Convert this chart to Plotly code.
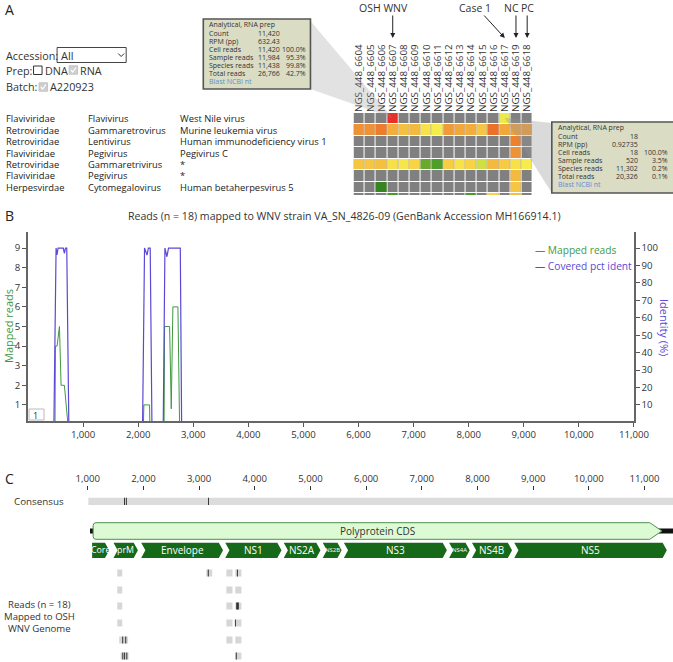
import plotly.graph_objects as go

W, H = 673, 662      # reference picture size, used for placing things
FIG_W = 690          # the page is photographed 690 px wide and shrunk to 673


def px(x):
    return x / W


def py(y):
    return 1 - y / H


# ---- panel A data ----
samples = ["NGS_448_6604", "NGS_448_6605", "NGS_448_6606", "NGS_448_6607",
           "NGS_448_6608", "NGS_448_6609", "NGS_448_6610", "NGS_448_6611",
           "NGS_448_6612", "NGS_448_6613", "NGS_448_6614", "NGS_448_6615",
           "NGS_448_6616", "NGS_448_6617", "NGS_448_6619", "NGS_448_6618"]
families = ["Flaviviridae", "Retroviridae", "Retroviridae", "Flaviviridae",
            "Retroviridae", "Flaviviridae", "Herpesvirdae"]
genera = ["Flavivirus", "Gammaretrovirus", "Lentivirus", "Pegivirus",
          "Gammaretrivirus", "Pegivirus", "Cytomegalovirus"]
species = ["West Nile virus", "Murine leukemia virus", "Human immunodeficiency virus 1",
           "Pegivirus C", "*", "*", "Human betaherpesvirus 5"]

G = None  # no reads -> grey cell
scores = [
    [G, G, G, 1.0, G, G, G, G, G, G, G, G, G, 0.45, G, G],
    [0.8, 0.8, 0.85, 0.72, 0.66, 0.68, 0.55, 0.5, 0.78, 0.74, 0.72, 0.64, 0.88, 0.74, 0.76, 0.76],
    [G, G, G, G, G, G, G, G, G, G, G, G, G, G, 0.84, G],
    [G, G, G, G, G, G, G, G, G, G, G, G, G, G, 0.8, G],
    [0.64, 0.64, 0.66, 0.56, 0.53, 0.6, 0.22, 0.17, 0.62, 0.55, 0.6, 0.38, 0.68, 0.63, 0.56, 0.5],
    [G, G, G, G, G, G, G, G, G, G, G, G, G, G, 0.68, G],
    [G, G, 0.05, G, G, G, G, G, G, G, G, G, G, G, 0.64, G],
    [G, G, G, 0.15, G, G, G, G, G, G, 0.15, G, 0.6, G, 0.66, G],
]

tip_left_rows = [("Count", "11,420", ""), ("RPM (pp)", "632.43", ""),
                 ("Cell reads", "11,420", "100.0%"), ("Sample reads", "11,984", "95.3%"),
                 ("Species reads", "11,438", "99.8%"), ("Total reads", "26,766", "42.7%")]
tip_right_rows = [("Count", "18", ""), ("RPM (pp)", "0.92735", ""),
                  ("Cell reads", "18", "100.0%"), ("Sample reads", "520", "3.5%"),
                  ("Species reads", "11,302", "0.2%"), ("Total reads", "20,326", "0.1%")]

# ---- panel B data ----
ident_x = [470, 509, 525, 545, 640, 660, 680, 703, 740,
           2080, 2115, 2160, 2185, 2218, 2249,
           2455, 2485, 2521, 2550, 2764, 2788]
ident_y = [0, 100, 96, 100, 100, 97, 100, 100, 0,
           0, 100, 96, 100, 100, 0,
           0, 100, 95, 100, 100, 0]
reads_x = [490, 497, 527, 570, 600, 660, 725,
           2095, 2103, 2206, 2212,
           2470, 2479, 2570, 2600, 2630, 2721, 2751]
reads_y = [0, 4, 4, 5, 2, 2, 0,
           0, 1, 1, 0,
           0, 5, 5, 0.8, 6, 6, 0]

# ---- panel C data ----
genes = ["Core", "prM", "Envelope", "NS1", "NS2A", "NS2B", "NS3", "NS4A", "NS4B", "NS5"]
gene_start = [1079, 1462, 1960, 3470, 4520, 5220, 5600, 7490, 7900, 8660]
gene_end = [1385, 1901, 3430, 4480, 5180, 5560, 7450, 7860, 8620, 11400]
cds_start, cds_end = 1097, 11313
consensus_start, consensus_end = 1011, 11530
consensus_snps = [1660, 1693, 3170]
read_blocks = [
    [(1530, 1620), (3130, 3235), (3490, 3600), (3650, 3760)],
    [(1530, 1620), (3490, 3600), (3650, 3760)],
    [(1530, 1620), (3490, 3600), (3650, 3760)],
    [(1530, 1620), (3490, 3600), (3650, 3760)],
    [(1565, 1725), (3490, 3600), (3650, 3760)],
    [(1590, 1735), (3650, 3760)],
]
read_snps = [[3165, 3688], [], [3675, 3690, 3705], [3652], [1628, 1682], [1630, 1662, 1702, 3668]]

GREEN = "#3f9a3f"
BLUE = "#5b48d6"
FONT = "Open Sans"

fig = go.Figure()

# heatmap: grey base + coloured scores
fig.add_trace(go.Heatmap(
    z=[[0] * len(samples) for _ in scores], x=samples, y=list(range(len(scores))),
    colorscale=[[0, "#808080"], [1, "#808080"]], showscale=False,
    xgap=1, ygap=1, hoverinfo="skip", xaxis="x", yaxis="y"))
fig.add_trace(go.Heatmap(
    z=scores, x=samples, y=list(range(len(scores))), zmin=0, zmax=1,
    colorscale=[[0.0, "#2b7a1c"], [0.17, "#4f9e2a"], [0.25, "#78b030"], [0.38, "#cfe040"],
                [0.48, "#f5f050"], [0.56, "#f8e048"], [0.66, "#f5c040"], [0.78, "#f09a38"],
                [0.88, "#ec7028"], [1.0, "#e8302a"]],
    showscale=False, xgap=1, ygap=1, xaxis="x", yaxis="y"))

# coverage plot
fig.add_trace(go.Scatter(x=reads_x, y=reads_y, mode="lines", name="Mapped reads",
                         line=dict(color=GREEN, width=1), xaxis="x2", yaxis="y2"))
fig.add_trace(go.Scatter(x=ident_x, y=ident_y, mode="lines", name="Covered pct ident",
                         line=dict(color=BLUE, width=1.2), xaxis="x2", yaxis="y3"))

shapes = []
ann = []


def text(x, y, s, size=10.5, color="#333", anchor="left", **kw):
    ann.append(dict(x=x, y=y, xref="paper", yref="paper", text=s, showarrow=False,
                    xanchor=anchor, yanchor="middle", font=dict(size=size, color=color), **kw))


# panel letters
for letter, yy in [("A", 10), ("B", 215), ("C", 478)]:
    text(px(2), py(yy), letter, size=14, color="#222")

# controls
text(px(3), py(55), "Accession:", size=10.8)
shapes.append(dict(type="rect", xref="paper", yref="paper", x0=px(56), x1=px(125),
                   y0=py(62.5), y1=py(47.5), line=dict(color="#444", width=1), fillcolor="white"))
text(px(58), py(55), "All", size=11)
shapes.append(dict(type="path", xref="paper", yref="paper",
                   path=f"M {px(117)},{py(53.5)} L {px(120)},{py(56.5)} L {px(123)},{py(53.5)}",
                   line=dict(color="#333", width=1)))
text(px(3), py(70), "Prep:", size=10.8)
shapes.append(dict(type="rect", xref="paper", yref="paper", x0=px(32.5), x1=px(41),
                   y0=py(74.5), y1=py(66), line=dict(color="#333", width=1), fillcolor="white"))
text(px(41.5), py(70), "DNA", size=10.8)
text(px(3), py(87), "Batch:", size=10.8)
text(px(76.5), py(70), "RNA", size=10.8)
text(px(46.5), py(87), "A220923", size=10.8)
for bx, by in [(68, 70), (38, 87)]:
    shapes.append(dict(type="rect", xref="paper", yref="paper", x0=px(bx), x1=px(bx + 8.5),
                       y0=py(by + 4.2), y1=py(by - 4.2), line=dict(color="#c4c4c4", width=1),
                       fillcolor="#cfcfcf"))
    shapes.append(dict(type="path", xref="paper", yref="paper",
                       path=f"M {px(bx + 1.8)},{py(by)} L {px(bx + 3.6)},{py(by + 2)} L {px(bx + 6.8)},{py(by - 2.5)}",
                       line=dict(color="white", width=1.2)))

# taxonomy table aligned on heatmap rows
for i in range(len(families)):
    for xx, s in [(3, families[i]), (85, genera[i]), (177, species[i])]:
        ann.append(dict(x=px(xx), y=i, xref="paper", yref="y", text=s, showarrow=False,
                        xanchor="left", yanchor="middle", font=dict(size=9.4, color="#222")))

# sample markers
for s, tx in [("OSH WNV", 382), ("Case 1", 473), ("NC", 510), ("PC", 526)]:
    text(px(tx), py(8), s, size=10.5, anchor="center")
for smp, dx in [("NGS_448_6607", 0), ("NGS_448_6617", -22), ("NGS_448_6619", 0), ("NGS_448_6618", 0)]:
    ann.append(dict(x=smp, y=py(38), xref="x", yref="paper", text="", showarrow=True,
                    ax=dx, ay=-24, arrowhead=2, arrowsize=1, arrowwidth=1, arrowcolor="#222"))


# tooltips
def tooltip(x0, y0, x1, y1, rows, val_x, val_anchor, pct_x, dy):
    shapes.append(dict(type="rect", xref="paper", yref="paper", x0=px(x0), x1=px(x1),
                       y0=py(y1), y1=py(y0), fillcolor="#dadcc4", line=dict(color="#555", width=1.6)))
    ly = y0 + 6
    text(px(x0 + 4), py(ly), "Analytical, RNA prep", size=7)
    for lab, val, pct in rows:
        ly += dy
        text(px(x0 + 4), py(ly), lab, size=7)
        text(px(val_x), py(ly), val, size=7, anchor=val_anchor)
        if pct:
            text(px(pct_x), py(ly), pct, size=7, anchor="right")
    text(px(x0 + 4), py(ly + dy), "Blast NCBI nt", size=7, color="#5b8fd6")


# callout wedges
shapes.append(dict(type="path", xref="paper", yref="paper", layer="above",
                   path=f"M {px(309)},{py(21)} L {px(391)},{py(118)} L {px(309)},{py(89)} Z",
                   fillcolor="rgba(150,150,150,0.28)", line=dict(width=0)))
shapes.append(dict(type="path", xref="paper", yref="paper", layer="above",
                   path=f"M {px(503)},{py(118)} L {px(550)},{py(123)} L {px(550)},{py(193)} Z",
                   fillcolor="rgba(150,150,150,0.35)", line=dict(width=0)))
tooltip(202, 19, 309, 89, tip_left_rows, 255, "left", 307, 8.1)
tooltip(550, 122, 672, 193, tip_right_rows, 638, "right", 668, 8.1)

# panel B texts
text(px(343), py(216), "Reads (n = 18) mapped to WNV strain VA_SN_4826-09 (GenBank Accession MH166914.1)",
     size=10.6, anchor="center")
text(px(531), py(250), "— Mapped reads", size=10.2, color=GREEN)
text(px(531), py(266), "— Covered pct ident", size=10.2, color=BLUE)
ann.append(dict(x=px(7), y=py(326), xref="paper", yref="paper", text="Mapped reads",
                xanchor="center", yanchor="middle",
                showarrow=False, textangle=-90, font=dict(size=11, color=GREEN)))
ann.append(dict(x=px(663), y=py(328), xref="paper", yref="paper", text="Identity (%)",
                xanchor="center", yanchor="middle",
                showarrow=False, textangle=90, font=dict(size=11, color=BLUE)))
shapes.append(dict(type="rect", xref="paper", yref="paper", x0=px(28), x1=px(43),
                   y0=py(420), y1=py(409), line=dict(color="#bbb", width=1), fillcolor="white"))
text(px(30), py(415), "1", size=9)

# panel C tracks (y in pixels below the ruler)
Y_CONS, Y_CDS, Y_GENE = 10.4, 40, 59.3
Y_READS = [82, 99, 115, 132, 149, 165]

text(px(38), py(501), "Consensus", size=9.8, anchor="center")
for s, yy in [("Reads (n = 18)", 604), ("Mapped to OSH", 616), ("WNV Genome", 628)]:
    text(px(38), py(yy), s, size=9.6, anchor="center")


def rect_c(x0, x1, yc, hh, color, **kw):
    shapes.append(dict(type="rect", xref="x3", yref="y4", x0=x0, x1=x1, y0=yc - hh, y1=yc + hh,
                       fillcolor=color, line=dict(width=0), **kw))


rect_c(consensus_start, consensus_end, Y_CONS, 3.7, "#dcdcdc")
for s in consensus_snps:
    rect_c(s - 8, s + 8, Y_CONS, 3.7, "#222")

rect_c(consensus_start + 30, consensus_end, Y_CDS, 2.6, "#111")
tip, r = 220, 50
cds_path = (f"M {cds_start + r},{Y_CDS - 8.3} L {cds_end - tip},{Y_CDS - 8.3} L {cds_end},{Y_CDS} "
            f"L {cds_end - tip},{Y_CDS + 8.3} L {cds_start + r},{Y_CDS + 8.3} "
            f"Q {cds_start},{Y_CDS + 8.3} {cds_start},{Y_CDS + 5.3} L {cds_start},{Y_CDS - 5.3} "
            f"Q {cds_start},{Y_CDS - 8.3} {cds_start + r},{Y_CDS - 8.3} Z")
shapes.append(dict(type="path", xref="x3", yref="y4", path=cds_path,
                   fillcolor="#dcfbd5", line=dict(color="#4f8f4f", width=1)))
ann.append(dict(x=(cds_start + cds_end) / 2, y=Y_CDS, xref="x3", yref="y4",
                text="Polyprotein CDS", showarrow=False, font=dict(size=10, color="#333")))

gt = 75
for i, g in enumerate(genes):
    s, e = gene_start[i], gene_end[i]
    notch = 0 if i == 0 else gt
    p = (f"M {s},{Y_GENE - 7.6} L {e - gt},{Y_GENE - 7.6} L {e},{Y_GENE} L {e - gt},{Y_GENE + 7.6} "
         f"L {s},{Y_GENE + 7.6} L {s + notch},{Y_GENE} Z")
    shapes.append(dict(type="path", xref="x3", yref="y4", path=p,
                       fillcolor="#17691a", line=dict(width=0)))
    if g in ("NS2B", "NS4A"):
        size = 6
    elif g in ("Core", "prM"):
        size = 8.8
    else:
        size = 10
    ann.append(dict(x=(s + e) / 2, y=Y_GENE, xref="x3", yref="y4", text=g, showarrow=False,
                    font=dict(size=size, color="white")))

for row, yy in enumerate(Y_READS):
    for s, e in read_blocks[row]:
        rect_c(s, e, yy, 3.5, "#d6d6d6")
    for s in read_snps[row]:
        rect_c(s - 9, s + 9, yy, 3.5, "#333")

fig.update_layout(
    width=FIG_W, height=H, margin=dict(l=0, r=0, t=0, b=0),
    paper_bgcolor="white", plot_bgcolor="white", showlegend=False,
    font=dict(family=FONT, color="#333"),
    xaxis=dict(domain=[px(352), px(531)], side="top", tickangle=-90, ticks="",
               tickmode="array", tickvals=samples, ticktext=samples,
               tickfont=dict(size=9.8, color="#333"), showgrid=False, zeroline=False,
               anchor="y"),
    yaxis=dict(domain=[py(195), py(113)], range=[6.67, -0.5], showticklabels=False,
               showgrid=False, zeroline=False, anchor="x"),
    xaxis2=dict(domain=[px(27), px(632)], range=[0, 11000], anchor="y2",
                tickvals=list(range(1000, 11001, 1000)), tickformat=",d",
                ticks="outside", ticklen=4, tickcolor="#555", showline=True,
                linecolor="#666", linewidth=1.5, showgrid=False, zeroline=False,
                tickfont=dict(size=9.6, color="#333")),
    yaxis2=dict(domain=[py(421), py(232)], range=[0.18, 9.82], anchor="x2",
                tickvals=list(range(1, 10)), ticks="outside", ticklen=4, tickcolor="#555",
                showline=True, linecolor="#666", linewidth=1.5, showgrid=False,
                zeroline=False, tickfont=dict(size=9.6, color="#333")),
    yaxis3=dict(overlaying="y2", side="right", anchor="x2", range=[0.8, 109.2],
                tickvals=list(range(10, 101, 10)), ticks="outside", ticklen=4, tickcolor="#555",
                showline=True, linecolor="#666", linewidth=1.5, showgrid=False,
                zeroline=False, tickfont=dict(size=9.6, color="#333")),
    xaxis3=dict(domain=[0, 1], range=[-557.6, 11546.8], side="top", anchor="y4",
                tickvals=list(range(1000, 11001, 1000)), tickformat=",d",
                ticks="outside", ticklen=4, tickcolor="#333", showline=False,
                showgrid=False, zeroline=False, tickfont=dict(size=9.6, color="#333")),
    yaxis4=dict(domain=[0, py(491)], range=[171, 0], visible=False, anchor="x3"),
    shapes=shapes, annotations=ann,
)

page_js = ("document.body.style.margin = '0px';"
           "document.documentElement.style.overflow = 'hidden';")
fig.write_html("out.html", config={"displayModeBar": False, "responsive": False},
               post_script=page_js)
